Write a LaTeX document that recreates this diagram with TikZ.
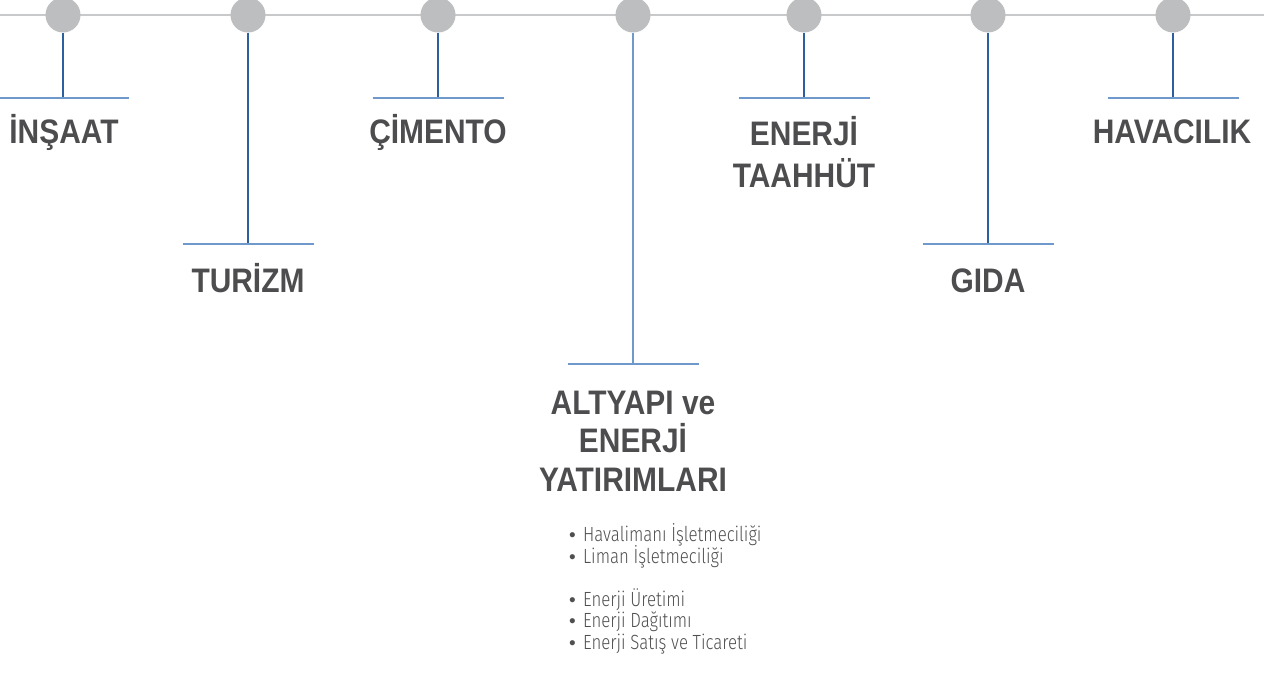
\documentclass[tikz,border=0pt]{standalone}
\usepackage{fontspec}
\setmainfont{Liberation Sans}
\newfontfamily\headfont{Liberation Sans Bold}[FakeStretch=0.88]
\newfontfamily\listfont{Fira Sans Light}[FakeStretch=0.82]
\newfontfamily\bulfont{Liberation Sans}
\newcommand{\tightlines}{\lineskiplimit=-50pt\relax}
\newcommand{\headsize}{\headfont\fontsize{34}{42.5}\selectfont\tightlines}
\newcommand{\headsizeB}{\headfont\fontsize{34}{38.5}\selectfont\tightlines}
\newcommand{\listsize}{\listfont\fontsize{20.5}{21.5}\selectfont\tightlines}
\definecolor{dotgray}{HTML}{BCBEC0}
\definecolor{linegray}{HTML}{C8C9CB}
\definecolor{stemblue}{HTML}{2B5F9E}
\definecolor{stemlight}{HTML}{6E99CA}
\definecolor{barblue}{HTML}{6E99CA}
\definecolor{headgray}{HTML}{4D4D4F}
\definecolor{listgray}{HTML}{505052}
\tikzset{
  dot/.style={circle,fill=dotgray,minimum size=35pt,inner sep=0pt},
  stem/.style={draw=stemblue,line width=1.3pt},
  stemlt/.style={draw=stemlight,line width=1.6pt},
  bar/.style={draw=barblue,line width=1.6pt},
  head/.style={font=\headsize,text=headgray,align=center,anchor=base,inner sep=0pt},
  listtext/.style={font=\listsize,text=listgray,align=left,anchor=base west,inner sep=0pt}
}
\newcommand{\bul}{\makebox[14pt][l]{\bulfont\fontsize{19}{21.5}\selectfont •}}
\begin{document}
\begin{tikzpicture}[x=1pt,y=-1pt]
\useasboundingbox (0,0) rectangle (1264,684);
% top rail
\coordinate (railL) at (0,15);
\coordinate (railR) at (1264,15);
\draw[draw=linegray,line width=1.5pt] (railL) -- (railR);
% circles
\node[dot] (c1) at (63,15) {};
\node[dot] (c2) at (248,15) {};
\node[dot] (c3) at (438,15) {};
\node[dot] (c4) at (633,15) {};
\node[dot] (c5) at (804,15) {};
\node[dot] (c6) at (988,15) {};
\node[dot] (c7) at (1173,15) {};
% bar centres
\coordinate (b1) at (63,98);
\coordinate (b2) at (248,244);
\coordinate (b3) at (438,98);
\coordinate (b4) at (633,364);
\coordinate (b5) at (804,98);
\coordinate (b6) at (988,244);
\coordinate (b7) at (1173,98);
% stems
\draw[stem] (c1) -- (b1);
\draw[stem] (c2) -- (b2);
\draw[stem] (c3) -- (b3);
\draw[stemlt] (c4) -- (b4);
\draw[stem] (c5) -- (b5);
\draw[stem] (c6) -- (b6);
\draw[stem] (c7) -- (b7);
% bars
\foreach \b in {b1,b2,b3,b4,b5,b6,b7}{
  \draw[bar] ([xshift=-65.5pt]\b) -- ([xshift=65.5pt]\b);
}
% headings (base anchor = baseline of last line)
\node[head] (t1) at (64,144) {İNŞAAT};
\node[head] (t2) at (248,293) {TURİZM};
\node[head] (t3) at (438,144) {ÇİMENTO};
\node[head,font=\headsizeB] (t4) at (633,491) {ALTYAPI ve\\ENERJİ\\YATIRIMLARI};
\node[head] (t5) at (804,188) {ENERJİ\\TAAHHÜT};
\node[head] (t6) at (988,293) {GIDA};
\node[head] (t7) at (1172,144) {HAVACILIK};
% list
\node[listtext] (list) at (569,649) {\bul Havalimanı İşletmeciliği\\
\bul Liman İşletmeciliği\\[21.5pt]
\bul Enerji Üretimi\\
\bul Enerji Dağıtımı\\
\bul Enerji Satış ve Ticareti};
\end{tikzpicture}
\end{document}
